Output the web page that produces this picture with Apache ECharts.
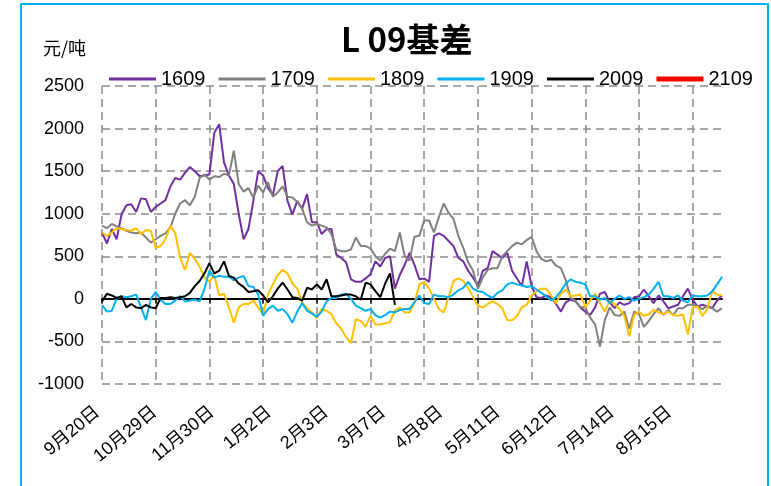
<!DOCTYPE html>
<html>
<head>
<meta charset="utf-8">
<script src="https://cdn.jsdelivr.net/npm/echarts@6/dist/echarts.min.js"></script>
<style>
html, body { margin: 0; padding: 0; background: #fff; }
#chart { width: 771px; height: 486px; }
</style>
</head>
<body>
<div id="chart"></div>
<script>
// 日期刻度（每个点约两个交易日）
const tickLabels = ['9月20日', '10月29日', '11月30日', '1月2日', '2月3日', '3月7日', '4月8日', '5月11日', '6月12日', '7月14日', '8月15日']

// 各合约基差 元/吨
const s1609 = [780, 650, 820, 700, 990, 1100, 1110, 1020, 1180, 1170, 1020, 1080, 1120, 1160, 1320, 1420, 1400, 1480, 1550, 1500, 1440, 1450, 1460, 1950, 2050, 1600, 1450, 1350, 1000, 700, 820, 1150, 1500,
  1450, 1300, 1220, 1500, 1560, 1150, 990, 1150, 1060, 1230, 900, 900, 760, 820, 820, 520, 480, 430, 230, 200, 200, 240, 290, 440, 380, 480, 500, 120, 280, 400, 540, 400, 230,
  240, 200, 740, 770, 740, 680, 620, 480, 440, 330, 250, 150, 330, 360, 560, 520, 480, 540, 330, 240, 150, 440, 150, 20, 10, 40, 20, -60, -150, -40, -10, -30, -100,
  -150, -190, -100, 60, 80, -40, -110, -40, -70, -50, 20, 30, 110, 30, -50, 40, -30, -110, -90, -70, 30, 120, -10, -90, -70, -90, -110, -20, 40]
const s1709 = [860, 830, 880, 850, 830, 800, 780, 770, 780, 720, 660, 700, 740, 770, 840, 1000, 1120, 1160, 1100, 1200, 1420, 1460, 1400, 1440, 1430, 1470, 1450, 1740, 1350, 1260, 1300, 1190, 1330,
  1250, 1370, 1200, 1250, 1320, 1200, 1190, 1140, 1060, 900, 860, 880, 860, 840, 760, 580, 560, 560, 580, 720, 620, 620, 590, 500, 450, 530, 590, 560, 780, 500, 450, 730, 740,
  920, 920, 780, 960, 1120, 1010, 940, 740, 600, 430, 330, 120, 250, 340, 360, 360, 500, 560, 620, 660, 640, 690, 730, 560, 470, 440, 460, 390, 360, 220, 10, -20, -100,
  -100, -220, -300, -560, -250, -100, -190, -200, -150, -350, -150, -180, -330, -260, -180, -110, -190, -130, -190, -110, -110, -70, -70, -90, -120, -80, -110, -150, -110]
const s1809 = [780, 740, 780, 830, 820, 810, 800, 830, 760, 810, 800, 600, 620, 700, 860, 770, 480, 340, 540, 470, 380, 250, 200, 280, 40, 60, -100, -280, -100, -60, -60, -20, -100,
  -190, 50, 170, 280, 340, 300, 180, 120, -40, -110, -160, -230, -120, -140, -180, -290, -350, -450, -520, -240, -260, -330, -200, -300, -300, -290, -270, -140, -100, -160, -160, -50, 170,
  200, 120, 0, -120, -160, 20, 210, 240, 210, 130, 20, -80, -100, -60, -30, -60, -110, -250, -250, -200, -100, -70, 40, 90, 120, 120, 40, -50, 60, 110, 30, 40, 50,
  -100, -20, 60, -50, -150, -20, -60, -120, -200, -440, -190, -150, -200, -180, -130, -160, -180, -150, -190, -200, -180, -420, -100, -90, -200, -120, 90, 50, 40]
const s1909 = [-70, -150, -140, 0, 30, 20, 30, 50, -100, -250, 0, 80, -10, -60, -60, -20, 30, -30, -20, -10, -30, 120, 330, 250, 270, 260, 260, 220, 250, 270, 150, 140, 50,
  -200, -120, -80, -140, -120, -180, -280, -150, -50, -140, -170, -210, -150, -30, 10, 10, 50, 60, 0, -80, -110, -140, -120, -190, -220, -190, -150, -160, -130, -120, -120, -40, 40,
  -50, -60, 50, 30, 30, 20, 50, 100, 130, 200, 120, 90, 80, 40, 10, 70, 100, 170, 190, 170, 160, 140, 150, 110, 70, 30, -20, 20, 90, 180, 230, 200, 190,
  170, 30, 30, -10, 10, -50, 0, 40, 0, 20, -20, 0, 20, 50, 120, 200, 30, 30, 10, 40, -20, -40, 40, 30, 30, 40, 90, 170, 260]
const s2009 = [-30, 60, 40, 10, 30, -100, -60, -100, -110, -70, -100, -110, 10, 10, 20, 10, 20, 30, 70, 150, 210, 300, 420, 300, 330, 440, 270, 250, 180, 140, 80, 90, 100,
  40, -40, 30, 120, 190, 110, 20, 10, -20, 130, 110, 170, 110, 230, 30, 30, 40, 50, 50, 30, -10, 190, 170, 90, 20, 180, 300, -70]
const s2109 = []

const days = s1609.map((v, i) => i)

const chartObj = echarts.init(document.getElementById('chart'))
const gridDash = { color: '#8c8c8c', width: 1.5, type: [8, 5] }
const numFont = "'Liberation Sans', Arial, sans-serif"
const cjkFont = "'Liberation Sans', 'Noto Sans CJK SC', sans-serif"
// 图例线条图标
const thinIcon = 'path://M0,0 H47 V3 H0 Z'
const thickIcon = 'path://M0,0 H47 V5 H0 Z'

function lineSeries (name, data, color, width) {
  return {
    name: name,
    type: 'line',
    data: data,
    symbol: 'none',
    lineStyle: { color: color, width: width },
    itemStyle: { color: color }
  }
}

const option = {
  animation: false,
  backgroundColor: '#fff',
  title: [
    {
      text: 'L 09基差',
      left: 336,
      top: 18,
      textStyle: { fontSize: 33, fontWeight: 'bold', color: '#000', fontFamily: "'Noto Sans CJK SC', sans-serif" }
    },
    {
      text: '元/吨',
      left: 38,
      top: 34,
      textStyle: { fontSize: 18, fontWeight: 'normal', color: '#000', fontFamily: "'Noto Sans CJK SC', sans-serif" }
    }
  ],
  legend: {
    left: 104,
    top: 64,
    width: 700,
    itemWidth: 47,
    itemHeight: 14,
    itemGap: 13,
    icon: thinIcon,
    textStyle: { fontSize: 20, color: '#000', fontFamily: numFont },
    data: [
      { name: '1609' }, { name: '1709' }, { name: '1809' }, { name: '1909' }, { name: '2009' },
      { name: '2109', icon: thickIcon }
    ]
  },
  grid: { left: 102, right: 49, top: 86, bottom: 102, outerBoundsMode: 'none' },
  xAxis: [
    {
      type: 'category',
      position: 'bottom',
      data: days,
      boundaryGap: false,
      axisLine: { onZero: true, lineStyle: { color: '#000', width: 2 } },
      axisTick: { show: true, interval: 10, length: 5, lineStyle: { color: '#000', width: 1.5 } },
      axisLabel: { show: false },
      splitLine: { show: true, interval: 10, lineStyle: gridDash }
    },
    {
      // 日期标签轴
      type: 'value',
      position: 'bottom',
      min: 0,
      max: 10.84,
      interval: 1,
      axisLine: { show: false, onZero: false },
      axisTick: { show: false },
      splitLine: { show: false },
      axisLabel: {
        rotate: 40,
        margin: 22,
        padding: [0, 6, 0, 0],
        fontSize: 18,
        color: '#000',
        fontFamily: cjkFont,
        formatter: function (v) {
          const k = Math.round(v)
          return Math.abs(v - k) < 1e-6 && tickLabels[k] ? tickLabels[k] : ''
        }
      }
    }
  ],
  yAxis: {
    type: 'value',
    min: -1000,
    max: 2500,
    interval: 500,
    axisLine: { show: false, onZero: false },
    axisTick: { show: false },
    axisLabel: { fontSize: 18, color: '#000', margin: 18, fontFamily: numFont, formatter: v => String(v) },
    splitLine: { show: true, lineStyle: gridDash }
  },
  graphic: [
    {
      type: 'rect',
      silent: true,
      shape: { x: 21, y: 4, width: 747, height: 520 },
      style: { fill: 'transparent', stroke: '#00B0F0', lineWidth: 2 }
    }
  ],
  series: [
    lineSeries('1609', s1609, '#7030A0', 2),
    lineSeries('1709', s1709, '#808080', 2),
    lineSeries('1809', s1809, '#FFC000', 2),
    lineSeries('1909', s1909, '#00B0F0', 2),
    lineSeries('2009', s2009, '#000000', 2),
    lineSeries('2109', s2109, '#FF0000', 4)
  ]
}
chartObj.setOption(option)
</script>
</body>
</html>
